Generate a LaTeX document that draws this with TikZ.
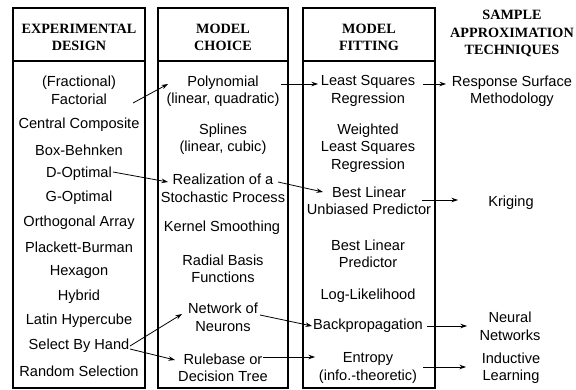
\documentclass[tikz,border=0pt]{standalone}
\usepackage{fontspec}
\setmainfont{Liberation Sans}
\newfontfamily\hdfont{Liberation Serif}
\usetikzlibrary{arrows.meta}
\begin{document}
\begin{tikzpicture}[x=1pt,y=-1pt,
  txt/.style={font=\fontsize{14.6}{17.5}\selectfont, align=center, inner sep=0pt},
  hd/.style={font=\hdfont\bfseries\fontsize{14.2}{17.2}\selectfont, align=center, inner sep=0pt},
  colbox/.style={line width=1.3pt},
  arr/.style={line width=0.8pt, -{Stealth[length=6.5pt,width=4.5pt]}}]
\useasboundingbox (0,0) rectangle (576,390);
% column frames
\draw[colbox] (13,8) rectangle (145,388);  \draw[colbox] (13,61) -- (145,61);
\draw[colbox] (158,8) rectangle (288,388); \draw[colbox] (158,61) -- (288,61);
\draw[colbox] (303,8) rectangle (435,388); \draw[colbox] (303,61) -- (435,61);
% headers
\node[hd] (h1) at (79,37.5) {EXPERIMENTAL\\DESIGN};
\node[hd] (h2) at (223,37.5) {MODEL\\CHOICE};
\node[hd] (h3) at (369,37.5) {MODEL\\FITTING};
\node[hd] (h4) at (512,33.5) {SAMPLE\\APPROXIMATION\\TECHNIQUES};
% column 1
\node[txt] (fact) at (79,90.5) {(Fractional)\\Factorial};
\node[txt] (cc)   at (79,125) {Central Composite};
\node[txt] (bb)   at (79,150) {Box-Behnken};
\node[txt] (dopt) at (79,174) {D-Optimal};
\node[txt] (gopt) at (79,198) {G-Optimal};
\node[txt] (orth) at (79,223) {Orthogonal Array};
\node[txt] (pb)   at (79,247) {Plackett-Burman};
\node[txt] (hex)  at (79,272) {Hexagon};
\node[txt] (hyb)  at (79,297) {Hybrid};
\node[txt] (lhc)  at (79,321) {Latin Hypercube};
\node[txt] (sbh)  at (79,346) {Select By Hand};
\node[txt] (rs)   at (79,371) {Random Selection};
% column 2
\node[txt] (poly) at (223,91)    {Polynomial\\(linear, quadratic)};
\node[txt] (spl)  at (223,139)   {Splines\\(linear, cubic)};
\node[txt] (real) at (223,188.5) {Realization of a\\Stochastic Process};
\node[txt] (ks)   at (222,228)   {Kernel Smoothing};
\node[txt] (rbf)  at (223,269)   {Radial Basis\\Functions};
\node[txt] (net)  at (223,317.5) {Network of\\Neurons};
\node[txt] (rule) at (223,368)   {Rulebase or\\Decision Tree};
% column 3
\node[txt] (lsq)  at (368,91)  {Least Squares\\Regression};
\node[txt] (wlsq) at (368,148) {Weighted\\Least Squares\\Regression};
\node[txt] (blup) at (369,201) {Best Linear\\Unbiased Predictor};
\node[txt] (blp)  at (368,254) {Best Linear\\Predictor};
\node[txt] (ll)   at (368,296) {Log-Likelihood};
\node[txt] (bp)   at (368,326) {Backpropagation};
\node[txt] (ent)  at (368,368) {Entropy\\(info.-theoretic)};
% column 4
\node[txt] (rsm)  at (512,91)    {Response Surface\\Methodology};
\node[txt] (krig) at (511,203)   {Kriging};
\node[txt] (nn)   at (510,326.5) {Neural\\Networks};
\node[txt] (ind)  at (511,368)   {Inductive\\Learning};
% connectors
\draw[arr] ([shift={(54,12.5)}]fact.center) -- ([shift={(-55,-7)}]poly.center);
\draw[arr] ([shift={(34,-2)}]dopt.center) -- ([shift={(-55,-6.5)}]real.center);
\draw[arr] ([shift={(58,-7)}]poly.center) -- ([shift={(-50,-7)}]lsq.center);
\draw[arr] ([shift={(55,-7)}]lsq.center) -- ([shift={(-66,-7)}]rsm.center);
\draw[arr] ([shift={(55,-6.5)}]real.center) -- ([shift={(-46,-9)}]blup.center);
\draw[arr] ([shift={(53,-1)}]blup.center) -- ([shift={(-53,-3)}]krig.center);
\draw[arr] ([shift={(51,0)}]sbh.center) -- ([shift={(-41,-3.5)}]net.center);
\draw[arr] ([shift={(51,3)}]sbh.center) -- ([shift={(-48,-8)}]rule.center);
\draw[arr] ([shift={(37,-2.5)}]net.center) -- ([shift={(-56,0)}]bp.center);
\draw[arr] ([shift={(40,-11)}]rule.center) -- ([shift={(-53,-11)}]ent.center);
\draw[arr] ([shift={(59,0)}]bp.center) -- ([shift={(-43,-0.5)}]nn.center);
\draw[arr] ([shift={(55,-1)}]ent.center) -- ([shift={(-45,-1)}]ind.center);
\end{tikzpicture}
\end{document}
